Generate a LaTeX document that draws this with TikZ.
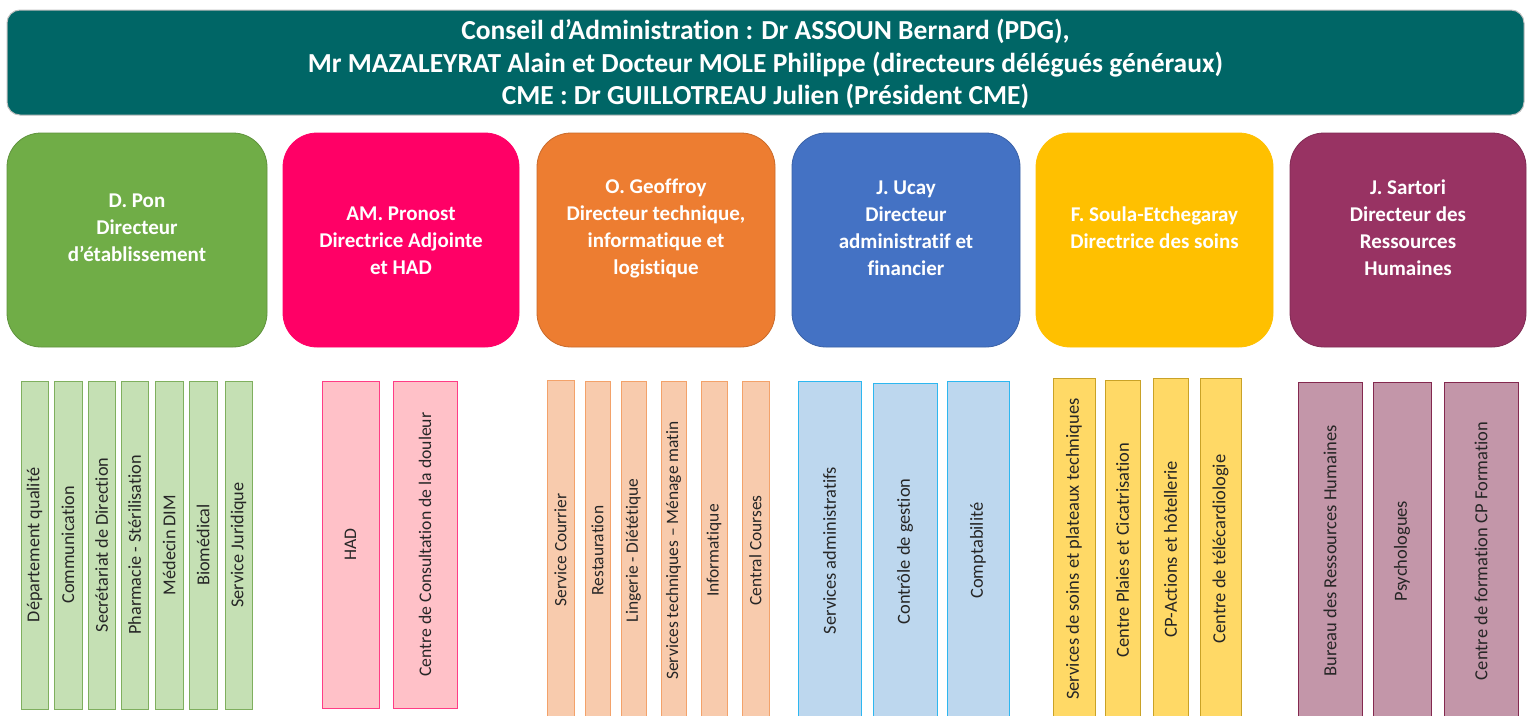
\documentclass[tikz,border=0pt]{standalone}
\usepackage{fontspec}
\setmainfont{Carlito}[Ligatures={NoCommon}]
\definecolor{teal1}{HTML}{006666}
\definecolor{cgreen}{HTML}{70AD47}
\definecolor{cpink}{HTML}{FF0066}
\definecolor{corange}{HTML}{ED7D31}
\definecolor{cblue}{HTML}{4472C4}
\definecolor{cyellow}{HTML}{FFC000}
\definecolor{cpurple}{HTML}{983363}
\definecolor{lgreen}{HTML}{C5E0B4}
\definecolor{bgreen}{HTML}{7FAF5E}
\definecolor{lpink}{HTML}{FFC1C8}
\definecolor{bpink}{HTML}{FF3D85}
\definecolor{lorange}{HTML}{F8CBAD}
\definecolor{borange}{HTML}{F3A26A}
\definecolor{lblue}{HTML}{BDD7EE}
\definecolor{bblue}{HTML}{2DB7F0}
\definecolor{lyellow}{HTML}{FFD966}
\definecolor{byellow}{HTML}{C9A227}
\definecolor{lpurple}{HTML}{C396A9}
\definecolor{bpurple}{HTML}{84294F}
\newcommand\mysub[7]{%
  \node[sub,#2,rotate=90,minimum width={(#6-#5)*1pt},minimum height={(#4-#3)*1pt}] (#1) at ({(#3+#4)/2},{(#5+#6)/2}) {#7};}
\tikzset{
  banner/.style={rounded corners=13pt,fill=teal1,draw=black!25,line width=1pt,text=white,font=\fontsize{27.5}{32.5}\selectfont\bfseries,align=center,inner sep=0pt},
  dirbox/.style={rounded corners=34pt,line width=0.8pt,inner sep=0pt},
  dirtext/.style={text=white,font=\fontsize{21}{27}\selectfont\bfseries,align=center,inner sep=0pt},
  sub/.style={line width=1pt,inner sep=0pt,text=black!85},
  gsub/.style={fill=lgreen,draw=bgreen,font=\fontsize{18.2}{20}\selectfont},
  psub/.style={fill=lpink,draw=bpink,font=\fontsize{17.7}{20}\selectfont},
  osub/.style={fill=lorange,draw=borange,font=\fontsize{17.4}{20}\selectfont},
  bsub/.style={fill=lblue,draw=bblue,font=\fontsize{18.4}{20}\selectfont},
  ysub/.style={fill=lyellow,draw=byellow,font=\fontsize{18.5}{20}\selectfont},
  usub/.style={fill=lpurple,draw=bpurple,font=\fontsize{18.5}{20}\selectfont},
}
\begin{document}
\begin{tikzpicture}[x=1pt,y=-1pt]
\clip (0,0) rectangle (1528,715);
\fill[white] (0,0) rectangle (1528,715);
% banner
\node[banner,minimum width=1517pt,minimum height=105pt] (ca) at (765.5,62.5) {};
\node[banner,draw=none,fill=none] (catext) at (765.5,64) {Conseil d’Administration : Dr ASSOUN Bernard (PDG),\\Mr MAZALEYRAT Alain et Docteur MOLE Philippe (directeurs délégués généraux)\\CME : Dr GUILLOTREAU Julien (Président CME)};
% directors
\node[dirbox,fill=cgreen,draw=cgreen!85!black,minimum width=260pt,minimum height=214pt] (d1) at (137,240) {};
\node[dirtext] (d1t) at (137,228) {D. Pon\\Directeur\\d’établissement};
\node[dirbox,fill=cpink,draw=cpink,minimum width=236pt,minimum height=214pt] (d2) at (401,240) {};
\node[dirtext] (d2t) at (401,241) {AM. Pronost\\Directrice Adjointe\\et HAD};
\node[dirbox,fill=corange,draw=corange!85!black,minimum width=238pt,minimum height=214pt] (d3) at (656,240) {};
\node[dirtext] (d3t) at (656,228) {O. Geoffroy\\Directeur technique,\\informatique et\\logistique};
\node[dirbox,fill=cblue,draw=cblue!85!black,minimum width=228pt,minimum height=214pt] (d4) at (906,240) {};
\node[dirtext] (d4t) at (906,228) {J. Ucay\\Directeur\\administratif et\\financier};
\node[dirbox,fill=cyellow,draw=cyellow,minimum width=237pt,minimum height=214pt] (d5) at (1154.5,240) {};
\node[dirtext] (d5t) at (1154.5,228) {F. Soula-Etchegaray\\Directrice des soins};
\node[dirbox,fill=cpurple,draw=cpurple!85!black,minimum width=236pt,minimum height=214pt] (d6) at (1408,240) {};
\node[dirtext] (d6t) at (1408,228) {J. Sartori\\Directeur des\\Ressources\\Humaines};
% green group
\mysub{g1}{gsub}{21}{48}{381}{709}{Département  qualité}
\mysub{g2}{gsub}{54}{82}{381}{709}{Communication}
\mysub{g3}{gsub}{88}{115}{381}{709}{Secrétariat de Direction}
\mysub{g4}{gsub}{121}{148}{381}{709}{Pharmacie - Stérilisation}
\mysub{g5}{gsub}{155}{183}{381}{709}{Médecin DIM}
\mysub{g6}{gsub}{189}{217}{381}{709}{Biomédical}
\mysub{g7}{gsub}{225}{252}{381}{709}{Service Juridique}
% pink group
\mysub{p1}{psub}{322}{379}{381}{708}{HAD}
\mysub{p2}{psub}{393}{457}{381}{708}{Centre de Consultation de la douleur}
% orange group
\mysub{o1}{osub}{547}{574}{380}{720}{Service Courrier}
\mysub{o2}{osub}{585}{610}{381}{720}{Restauration}
\mysub{o3}{osub}{621}{646}{381}{720}{Lingerie - Diététique}
\mysub{o4}{osub}{661}{686}{381}{720}{Services techniques – Ménage matin}
\mysub{o5}{osub}{701}{727}{381}{720}{Informatique}
\mysub{o6}{osub}{742}{769}{381}{720}{Central Courses}
% blue group
\mysub{b1}{bsub}{798}{861}{381}{720}{Services administratifs}
\mysub{b2}{bsub}{873}{937}{383}{720}{Contrôle de gestion}
\mysub{b3}{bsub}{947}{1009}{381}{720}{Comptabilité}
% yellow group
\mysub{y1}{ysub}{1053}{1095}{378}{720}{Services de  soins et plateaux techniques}
\mysub{y2}{ysub}{1105}{1140}{380}{720}{Centre Plaies et Cicatrisation}
\mysub{y3}{ysub}{1153}{1188}{378}{720}{CP-Actions et hôtellerie}
\mysub{y4}{ysub}{1200}{1241}{378}{720}{Centre  de télécardiologie}
% purple group
\mysub{u1}{usub}{1298}{1362}{382}{720}{Bureau des  Ressources Humaines}
\mysub{u2}{usub}{1373}{1431}{382}{720}{Psychologues}
\mysub{u3}{usub}{1444}{1518}{382}{720}{Centre de formation CP Formation}
\end{tikzpicture}
\end{document}
